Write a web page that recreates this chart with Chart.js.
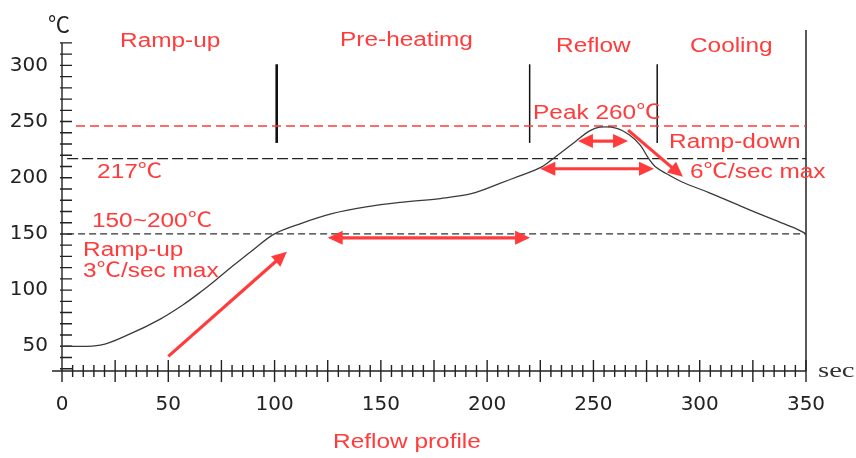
<!DOCTYPE html>
<html>
<head>
<meta charset="utf-8">
<title>Reflow profile</title>
<script src="https://cdn.jsdelivr.net/npm/chart.js@4.4.0/dist/chart.umd.min.js"></script>
<style>
  html, body { margin: 0; padding: 0; background: #fff; }
  #wrap { width: 856px; height: 458px; }
</style>
</head>
<body>
<div id="wrap"><canvas id="profile"></canvas></div>
<script>
// temperature curve (sec, ℃)
const curveTime = [0, 18, 32, 46, 57, 65, 73, 80, 90, 100, 112, 127, 143, 159, 178, 193, 206, 215, 225, 231, 242, 248, 253, 261, 267, 272, 276, 279, 284, 292, 304, 319, 333, 345, 350];
const curveTemp = [50, 51, 61, 74, 87, 98, 110, 121, 136, 150, 159, 168, 174, 178, 181.5, 186, 195, 201.5, 209, 217, 233, 241.5, 245, 244, 238, 229, 217, 210, 204, 196, 187, 175, 164, 155, 150];

// axis labels
const xTicks = [0, 50, 100, 150, 200, 250, 300, 350];
const yTicks = [50, 100, 150, 200, 250, 300];

// dashed limit lines: peak, liquidus, soak
const peakLine = 246;
const liquidusLine = 217;
const soakLine = 150;

// zone dividers (sec) and their temperature span
const zoneTime = [101, 220, 280];
const zoneSpan = [231, 301];

// arrows: [sec, ℃] from / to
const arrowFrom = [[50, 41], [125, 146.5], [225, 208], [242.7, 232.6], [266.3, 242.4]];
const arrowTo = [[105.8, 134.2], [220.2, 146.5], [278.5, 208], [266.3, 232.6], [292.1, 200.8]];
const arrowBoth = [false, true, true, true, false];

// notes: text, anchor sec, anchor ℃ (left / baseline)
const noteText = ['Ramp-up', 'Pre-heatimg', 'Reflow', 'Cooling', '217℃', '150~200℃', 'Ramp-up', '3℃/sec max', 'Peak 260℃', 'Ramp-down', '6℃/sec max'];
const noteTime = [27.3, 130.8, 232.4, 295.4, 16.5, 14.1, 9.9, 9.9, 221.6, 285.6, 295.4];
const noteTemp = [316, 317, 312, 312, 200, 156.3, 130, 111.4, 252, 226.5, 200];

const RED = '#ff3b3b';
const SANS = "'Liberation Sans', 'Noto Sans CJK SC', sans-serif";

function wideText(ctx, str, x, y, sx) {
  ctx.save();
  ctx.translate(x, y);
  ctx.scale(sx, 1);
  ctx.fillText(str, 0, 0);
  ctx.restore();
}

function head(ctx, fx, fy, tx, ty) {
  const a = Math.atan2(ty - fy, tx - fx), L = 15, W = 7;
  ctx.beginPath();
  ctx.moveTo(tx, ty);
  ctx.lineTo(tx - L * Math.cos(a) + W * Math.sin(a), ty - L * Math.sin(a) - W * Math.cos(a));
  ctx.lineTo(tx - L * Math.cos(a) - W * Math.sin(a), ty - L * Math.sin(a) + W * Math.cos(a));
  ctx.closePath();
  ctx.fill();
}

const decor = {
  id: 'decor',
  beforeDatasetsDraw(chart) {
    const { ctx, scales: { x, y } } = chart;
    const x0 = x.getPixelForValue(0), y0 = y.getPixelForValue(y.min);
    ctx.save();
    ctx.strokeStyle = '#222';
    ctx.lineWidth = 1.4;
    ctx.beginPath();
    ctx.moveTo(x0 - 10, y0);
    ctx.lineTo(x.getPixelForValue(350), y0);
    ctx.moveTo(x0, y0);
    ctx.lineTo(x0, y.getPixelForValue(320));
    for (let t = 0; t <= 350; t += 5) {
      const px = x.getPixelForValue(t), h = t % 25 ? 6 : 11;
      ctx.moveTo(px, y0 - h);
      ctx.lineTo(px, y0 + h);
    }
    for (let v = 30; v <= 320; v += 10) {
      const py = y.getPixelForValue(v);
      ctx.moveTo(x0 - 2, py);
      ctx.lineTo(x0 + 10, py);
    }
    ctx.stroke();
    ctx.restore();
  },
  afterDatasetsDraw(chart) {
    const { ctx, chartArea, scales: { x, y } } = chart;
    ctx.save();
    // arrows
    ctx.strokeStyle = RED;
    ctx.fillStyle = RED;
    ctx.lineWidth = 3.2;
    arrowFrom.forEach((f, i) => {
      const fx = x.getPixelForValue(f[0]), fy = y.getPixelForValue(f[1]);
      const tx = x.getPixelForValue(arrowTo[i][0]), ty = y.getPixelForValue(arrowTo[i][1]);
      const a = Math.atan2(ty - fy, tx - fx);
      const s = arrowBoth[i] ? 10 : 0;
      ctx.beginPath();
      ctx.moveTo(fx + s * Math.cos(a), fy + s * Math.sin(a));
      ctx.lineTo(tx - 10 * Math.cos(a), ty - 10 * Math.sin(a));
      ctx.stroke();
      head(ctx, fx, fy, tx, ty);
      if (arrowBoth[i]) head(ctx, tx, ty, fx, fy);
    });
    // notes
    ctx.font = '20px ' + SANS;
    ctx.textAlign = 'left';
    ctx.textBaseline = 'alphabetic';
    noteText.forEach((s, i) => {
      wideText(ctx, s, x.getPixelForValue(noteTime[i]), y.getPixelForValue(noteTemp[i]), 1.22);
    });
    wideText(ctx, 'Reflow profile', x.getPixelForValue(127.5), chartArea.bottom + 77, 1.22);
    // axis units
    ctx.fillStyle = '#222';
    ctx.font = "22px 'Noto Sans CJK SC', sans-serif";
    ctx.fillText('℃', chartArea.left - 14, chartArea.top + 2);
    ctx.fillStyle = '#333';
    ctx.font = "22px 'Liberation Serif', serif";
    wideText(ctx, 'sec', chartArea.right + 12, chartArea.bottom + 6, 1.3);
    ctx.restore();
  }
};

function hline(v, start, color, dash, width) {
  return {
    data: [{ x: start, y: v }, { x: 350, y: v }],
    borderColor: color, borderWidth: width, borderDash: dash,
    pointRadius: 0, order: 2
  };
}

const datasets = [
  {
    label: 'Temperature',
    data: curveTime.map((t, i) => ({ x: t, y: curveTemp[i] })),
    borderColor: '#3a3a3a', borderWidth: 1.3,
    tension: 0.35,
    pointRadius: 0, order: 1
  },
  hline(peakLine, 6.6, RED, [9, 5], 1.4),
  hline(liquidusLine, 2.4, '#222', [11, 4], 1.4),
  hline(soakLine, 2.4, '#333', [7, 4], 1.2)
];
zoneTime.forEach((t, i) => {
  datasets.push({
    data: [{ x: t, y: zoneSpan[0] }, { x: t, y: zoneSpan[1] }],
    borderColor: '#111', borderWidth: i === 0 ? 2.6 : 1.5,
    pointRadius: 0, order: 2
  });
});
datasets.push({
  data: [{ x: 350, y: 28 }, { x: 350, y: 331.5 }],
  borderColor: '#222', borderWidth: 1.5, pointRadius: 0, clip: false, order: 2
});

const tickFont = { family: "'DejaVu Sans', sans-serif", size: 20 };

new Chart(document.getElementById('profile'), {
  type: 'line',
  data: { datasets },
  options: {
    responsive: true,
    maintainAspectRatio: false,
    animation: false,
    layout: { padding: { top: 30, right: 50, left: 0, bottom: 0 } },
    plugins: { legend: { display: false }, tooltip: { enabled: false } },
    scales: {
      x: {
        type: 'linear', min: 0, max: 350,
        afterBuildTicks: s => { s.ticks = xTicks.map(v => ({ value: v })); },
        afterFit: s => { s.height = 87; },
        grid: { display: false, drawTicks: false },
        border: { display: false },
        ticks: { color: '#222', font: tickFont, padding: 22, maxRotation: 0, autoSkip: false }
      },
      y: {
        type: 'linear', min: 28, max: 331.5,
        afterBuildTicks: s => { s.ticks = yTicks.map(v => ({ value: v })); },
        afterFit: s => { s.width = 62; },
        grid: { display: false, drawTicks: false },
        border: { display: false },
        ticks: { color: '#222', font: tickFont, padding: 14 }
      }
    }
  },
  plugins: [decor]
});
</script>
</body>
</html>
